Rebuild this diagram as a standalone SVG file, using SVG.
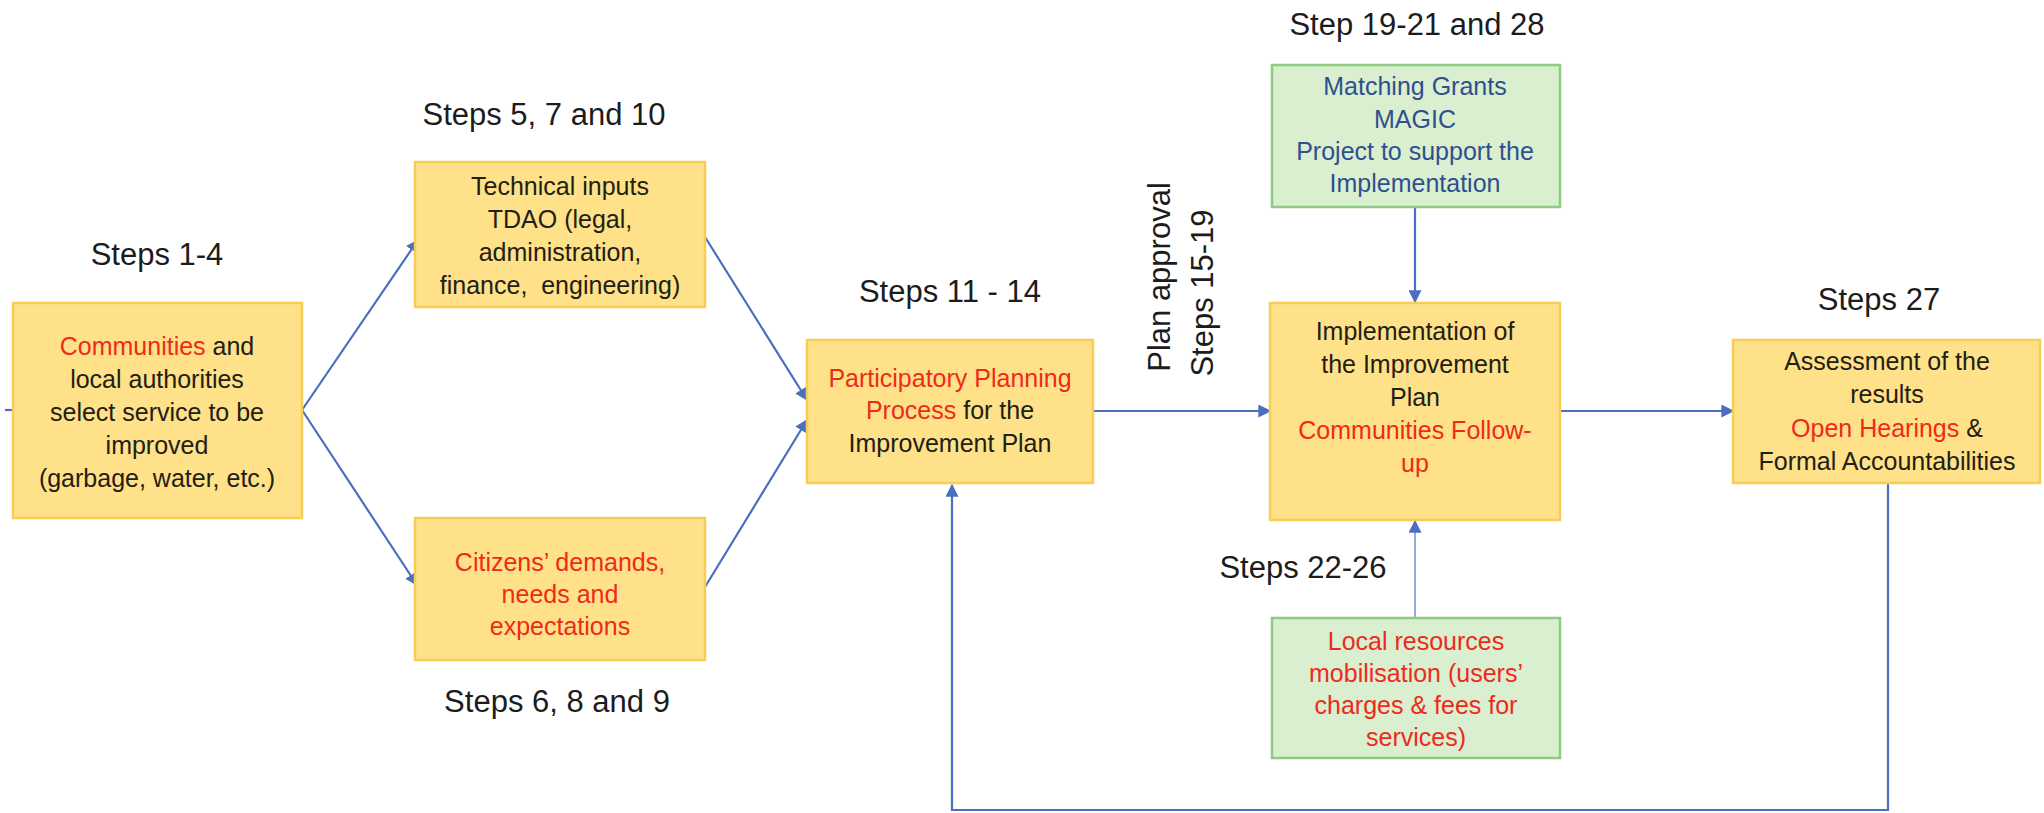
<svg xmlns="http://www.w3.org/2000/svg" width="2044" height="813" viewBox="0 0 2044 813">
<defs>
<style>
.bg{fill:#ffffff}
.ybox{fill:#FEE188;stroke:#F6CD55;stroke-width:2.5}
.gbox{fill:#D9EFCF;stroke:#8DCB80;stroke-width:2.5}
.lbl{font-family:"Liberation Sans",Arial,sans-serif;font-size:31px;fill:#1c1c1c;text-anchor:middle}
.txt{font-family:"Liberation Sans",Arial,sans-serif;font-size:25px;fill:#222014;text-anchor:middle}
.red{fill:#EE2A1B}
.blue{fill:#2F4F8F}
.con{fill:none;stroke:#4A6FC0;stroke-width:2.2}
.thin{fill:none;stroke:#6F8FD0;stroke-width:1.5}
</style>
<marker id="ah" viewBox="0 0 10 10" refX="9" refY="5" markerUnits="userSpaceOnUse" markerWidth="13" markerHeight="13" orient="auto">
<path d="M0,0 L10,5 L0,10 z" fill="#4A6FC0"/>
</marker>
</defs>
<rect class="bg" x="0" y="0" width="2044" height="813"/>

<g id="connectors">
<line class="con" x1="5" y1="410" x2="13" y2="410"/>
<line class="con" x1="302" y1="410" x2="418" y2="240" marker-end="url(#ah)"/>
<line class="con" x1="302" y1="410" x2="417" y2="585" marker-end="url(#ah)"/>
<line class="con" x1="705" y1="237" x2="807" y2="400" marker-end="url(#ah)"/>
<line class="con" x1="705" y1="587" x2="807" y2="420" marker-end="url(#ah)"/>
<line class="con" x1="1093" y1="411" x2="1270" y2="411" marker-end="url(#ah)"/>
<line class="con" x1="1415" y1="207" x2="1415" y2="302" marker-end="url(#ah)"/>
<line class="thin" x1="1415" y1="618" x2="1415" y2="521" marker-end="url(#ah)"/>
<line class="con" x1="1560" y1="411" x2="1733" y2="411" marker-end="url(#ah)"/>
<polyline class="con" points="1888,483 1888,810 952,810 952,485" marker-end="url(#ah)"/>
</g>

<g id="label-steps-1-4"><text class="lbl" x="157" y="265">Steps 1-4</text></g>
<g id="label-steps-5-7-10"><text class="lbl" x="544" y="125">Steps 5, 7 and 10</text></g>
<g id="label-steps-6-8-9"><text class="lbl" x="557" y="712">Steps 6, 8 and 9</text></g>
<g id="label-steps-11-14"><text class="lbl" x="950" y="302">Steps 11 - 14</text></g>
<g id="label-plan-approval">
<text class="lbl" transform="translate(1170,277) rotate(-90)">Plan approval</text>
<text class="lbl" transform="translate(1213,293) rotate(-90)">Steps 15-19</text>
</g>
<g id="label-steps-19-21-28"><text class="lbl" x="1417" y="35">Step 19-21 and 28</text></g>
<g id="label-steps-22-26"><text class="lbl" x="1303" y="578">Steps 22-26</text></g>
<g id="label-steps-27"><text class="lbl" x="1879" y="310">Steps 27</text></g>

<g id="node-communities">
<rect class="ybox" x="13" y="303" width="289" height="215"/>
<text class="txt" x="157" y="355"><tspan class="red">Communities</tspan> and</text>
<text class="txt" x="157" y="388">local authorities</text>
<text class="txt" x="157" y="421">select service to be</text>
<text class="txt" x="157" y="454">improved</text>
<text class="txt" x="157" y="487">(garbage, water, etc.)</text>
</g>

<g id="node-technical">
<rect class="ybox" x="415" y="162" width="290" height="145"/>
<text class="txt" x="560" y="195">Technical inputs</text>
<text class="txt" x="560" y="228">TDAO (legal,</text>
<text class="txt" x="560" y="261">administration,</text>
<text class="txt" x="560" y="294">finance,&#160; engineering)</text>
</g>

<g id="node-citizens">
<rect class="ybox" x="415" y="518" width="290" height="142"/>
<text class="txt red" x="560" y="571">Citizens’ demands,</text>
<text class="txt red" x="560" y="603">needs and</text>
<text class="txt red" x="560" y="635">expectations</text>
</g>

<g id="node-participatory">
<rect class="ybox" x="807" y="340" width="286" height="143"/>
<text class="txt" x="950" y="387"><tspan class="red">Participatory Planning</tspan></text>
<text class="txt" x="950" y="419"><tspan class="red">Process</tspan> for the</text>
<text class="txt" x="950" y="452">Improvement Plan</text>
</g>

<g id="node-matching">
<rect class="gbox" x="1272" y="65" width="288" height="142"/>
<text class="txt blue" x="1415" y="95">Matching Grants</text>
<text class="txt blue" x="1415" y="128">MAGIC</text>
<text class="txt blue" x="1415" y="160">Project to support the</text>
<text class="txt blue" x="1415" y="192">Implementation</text>
</g>

<g id="node-implementation">
<rect class="ybox" x="1270" y="303" width="290" height="217"/>
<text class="txt" x="1415" y="340">Implementation of</text>
<text class="txt" x="1415" y="373">the Improvement</text>
<text class="txt" x="1415" y="406">Plan</text>
<text class="txt red" x="1415" y="439">Communities Follow-</text>
<text class="txt red" x="1415" y="472">up</text>
</g>

<g id="node-local">
<rect class="gbox" x="1272" y="618" width="288" height="140"/>
<text class="txt red" x="1416" y="650">Local resources</text>
<text class="txt red" x="1416" y="682">mobilisation (users’</text>
<text class="txt red" x="1416" y="714">charges &amp; fees for</text>
<text class="txt red" x="1416" y="746">services)</text>
</g>

<g id="node-assessment">
<rect class="ybox" x="1733" y="340" width="307" height="143"/>
<text class="txt" x="1887" y="370">Assessment of the</text>
<text class="txt" x="1887" y="403">results</text>
<text class="txt" x="1887" y="437"><tspan class="red">Open Hearings</tspan> &amp;</text>
<text class="txt" x="1887" y="470">Formal Accountabilities</text>
</g>
</svg>
